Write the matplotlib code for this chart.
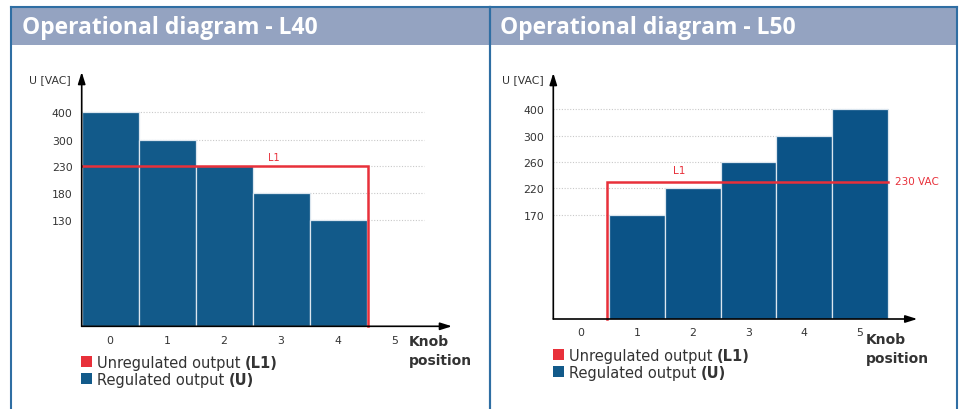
import numpy as np
import matplotlib
matplotlib.use("Agg")
import matplotlib.pyplot as plt
from matplotlib.patches import Rectangle

# ---------------- data ----------------
positions = [0, 1, 2, 3, 4, 5]
pos_labels = ["0", "1", "2", "3", "4", "5"]

l40_ticks = [130, 180, 230, 300, 400]
l40_knob = [0, 1, 2, 3, 4]
l40_u = [400, 300, 230, 180, 130]
l40_l1 = 230

l50_ticks = [170, 220, 260, 300, 400]
l50_knob = [1, 2, 3, 4, 5]
l50_u = [170, 220, 260, 300, 400]
l50_l1 = 230

titles = ["Operational diagram - L40", "Operational diagram - L50"]
legend_labels = [("Unregulated output ", "(L1)"), ("Regulated output ", "(U)")]

# ---------------- style ----------------
W, H = 960, 410
BAR = "#125a8a"
BAR2 = "#0b5387"
RED = "#e8303a"
BORDER = "#2f6ea3"
HEAD = "#94a3c1"
TXT = "#333333"

fig = plt.figure(figsize=(W / 100, H / 100), dpi=100)
plt.rcParams["font.family"] = ["DejaVu Sans"]


def fx(px):
    return px / W


def fy(py):
    return 1 - py / H


# panel frames and headers
for x0, x1 in [(11, 490), (490, 957)]:
    fig.patches.append(Rectangle((fx(x0), fy(46)), fx(x1 - x0), (46 - 8) / H,
                                 transform=fig.transFigure, facecolor=HEAD,
                                 edgecolor="none", zorder=0))
    fig.add_artist(plt.Line2D([fx(x0), fx(x1)], [fy(8), fy(8)], color=BORDER, lw=1.5,
                              transform=fig.transFigure))
    for xx in (x0, x1):
        fig.add_artist(plt.Line2D([fx(xx), fx(xx)], [fy(8), fy(410)], color=BORDER, lw=1.5,
                                  transform=fig.transFigure))

fig.text(fx(22), fy(28), titles[0], color="white", fontsize=16.5, fontweight="bold",
         family="Open Sans", va="center", ha="left")
fig.text(fx(500), fy(28), titles[1], color="white", fontsize=16.5, fontweight="bold",
         family="Open Sans", va="center", ha="left")


def make_scale(vals, px):
    v = [0] + list(vals)
    p = [0] + list(px)
    slope = (p[-1] - p[-2]) / (v[-1] - v[-2])
    v.append(v[-1] + 10000)
    p.append(p[-1] + 10000 * slope)
    v = np.array(v, float)
    p = np.array(p, float)

    def fwd(x):
        return np.interp(x, v, p)

    def inv(y):
        return np.interp(y, p, v)

    return fwd, inv


def panel(rect_px, xlim, ticks, tick_px, top_px, knob, u, color):
    left, right, bottom, top = rect_px
    ax = fig.add_axes([fx(left), fy(bottom), fx(right - left), (bottom - top) / H])
    fwd, inv = make_scale(ticks, tick_px)
    ax.set_yscale("function", functions=(fwd, inv))
    ax.set_xlim(*xlim)
    ax.set_ylim(0, inv(top_px))
    for s in ax.spines.values():
        s.set_visible(False)
    ax.hlines(ticks, -0.5, 5.5, colors="#c9c9c9", linestyles=(0, (1, 1.5)), lw=0.8, zorder=0)
    ax.bar(knob, u, width=1.0, color=color, edgecolor="#dbe6ef", linewidth=0.9, zorder=2)
    ax.set_yticks(ticks)
    ax.set_yticklabels([str(t) for t in ticks])
    ax.set_xticks(positions)
    ax.set_xticklabels(pos_labels)
    ax.tick_params(axis="y", length=0, pad=6.5, labelsize=7.8, labelcolor=TXT)
    ax.tick_params(axis="x", length=0, pad=6, labelsize=7.8, labelcolor=TXT)
    ax.set_facecolor("none")
    ax.annotate("", xy=(0, 1), xytext=(0, 0), xycoords="axes fraction",
                arrowprops=dict(arrowstyle="-|>,head_length=0.7,head_width=0.22",
                                color="black", lw=1.2, shrinkA=0, shrinkB=0), zorder=5)
    ax.annotate("", xy=(1, 0), xytext=(0, 0), xycoords="axes fraction",
                arrowprops=dict(arrowstyle="-|>,head_length=0.7,head_width=0.22",
                                color="black", lw=1.2, shrinkA=0, shrinkB=0), zorder=5)
    return ax


# ---- left panel (L40)
axL = panel((81.7, 452, 327.3, 73), (-0.5, 6.0), l40_ticks, [106, 133, 160, 186, 214],
            254, l40_knob, l40_u, BAR)
axL.plot([-0.5, 4.52, 4.52], [l40_l1, l40_l1, 0], color=RED, lw=1.8, zorder=3,
         solid_joinstyle="miter", clip_on=False)
axL.text(2.88, 241, "L1", color=RED, fontsize=7, ha="center", va="bottom")
fig.text(fx(29), fy(80), "U [VAC]", fontsize=7.8, color=TXT, va="center", ha="left")

# ---- right panel (L50)
axR = panel((553.3, 917.3, 320, 74), (-0.5, 6.03), l50_ticks, [104, 131, 157, 183, 210],
            246, l50_knob, l50_u, BAR2)
axR.plot([0.47, 0.47, 5.5], [0, l50_l1, l50_l1], color=RED, lw=1.8, zorder=3,
         solid_joinstyle="miter", clip_on=False)
axR.text(1.75, 240, "L1", color=RED, fontsize=7.5, ha="center", va="bottom")
axR.text(5.63, l50_l1, "230 VAC", color=RED, fontsize=7.5, ha="left", va="center")
fig.text(fx(502), fy(80), "U [VAC]", fontsize=7.8, color=TXT, va="center", ha="left")

# ---- knob position labels
for x, y1, y2 in [(409, 342, 361), (866, 340, 359)]:
    fig.text(fx(x), fy(y1), "Knob", fontsize=10, fontweight="bold", color=TXT, va="center")
    fig.text(fx(x), fy(y2), "position", fontsize=10, fontweight="bold", color=TXT, va="center")

# ---- legends
for x, yr, yb in [(81, 362.5, 379.5), (553, 355.5, 372.5)]:
    for (lab, bold), yy, c in [(legend_labels[0], yr, RED), (legend_labels[1], yb, BAR)]:
        fig.patches.append(Rectangle((fx(x), fy(yy + 5.5)), fx(11), 11 / H,
                                     transform=fig.transFigure, facecolor=c, edgecolor="none"))
        t = fig.text(fx(x + 16), fy(yy + 1), lab, fontsize=10.5, color=TXT, va="center", ha="left")
        fig.canvas.draw()
        bb = t.get_window_extent()
        fig.text(bb.x1 / W, fy(yy + 1), bold, fontsize=10.5, fontweight="bold", color=TXT,
                 va="center", ha="left")

fig.savefig("out.png", dpi=100)
